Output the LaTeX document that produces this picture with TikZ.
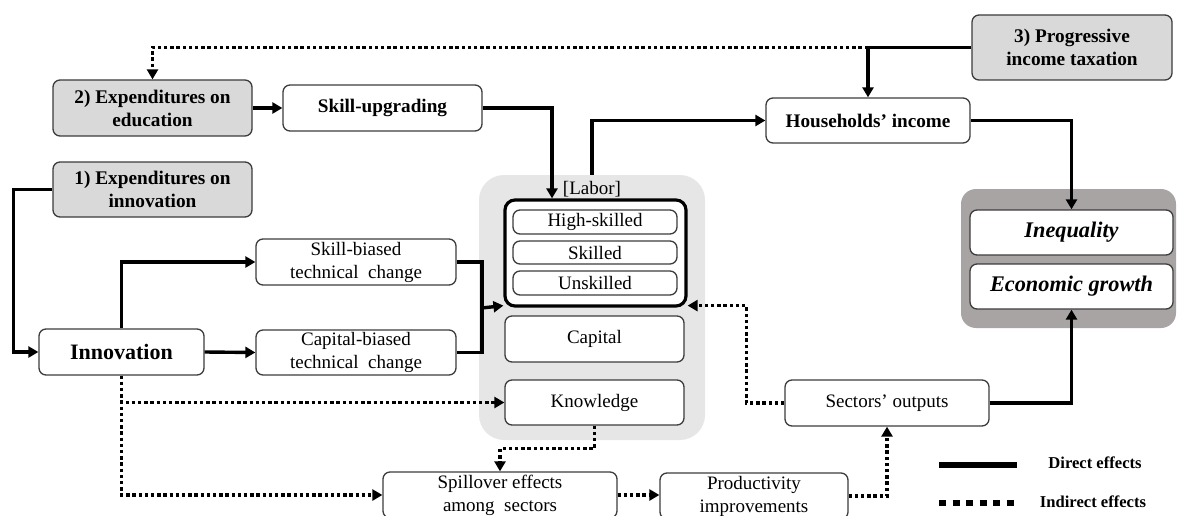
\documentclass[tikz,border=0pt]{standalone}
\usepackage{fontspec}
\setmainfont{Liberation Serif}
\usetikzlibrary{arrows.meta}
\definecolor{polgray}{RGB}{217,217,217}
\definecolor{labgray}{RGB}{230,230,230}
\definecolor{outgray}{RGB}{168,164,164}
\definecolor{bord}{RGB}{60,60,60}
\tikzset{
 box/.style={draw=bord, line width=1.3pt, rounded corners=7pt, fill=white, align=center, inner sep=0pt, font=\fontsize{19}{23}\selectfont},
 pol/.style={box, fill=polgray, font=\bfseries\fontsize{19.3}{23}\selectfont},
 bbox/.style={box, font=\bfseries\fontsize{19.2}{23}\selectfont},
 ibox/.style={box, font=\bfseries\itshape\fontsize{22.3}{26}\selectfont},
 sz/.style 2 args={minimum width=#1pt, minimum height=#2pt},
 direct/.style={line width=3.4pt, -{Triangle[length=10pt,width=11pt]}},
 plain/.style={line width=3.4pt},
 indirect/.style={line width=3.4pt, dash pattern=on 3.4pt off 2.8pt, -{Triangle[length=10pt,width=11pt]}},
 legtext/.style={font=\bfseries\fontsize{16.6}{18}\selectfont, inner sep=0pt},
}
\begin{document}
\begin{tikzpicture}[x=1pt,y=-1pt]
\useasboundingbox (0,0) rectangle (1177,516);
% group backgrounds
\node[fill=labgray, rounded corners=25pt, sz={226}{265}, inner sep=0pt] (labgrp) at (592,307.5) {};
\node[fill=outgray, rounded corners=15pt, sz={215}{139}, inner sep=0pt] (outgrp) at (1068.5,258.5) {};
% policy boxes
\node[pol, sz={199}{56}] (exp2) at (152.5,108) {2) Expenditures on\\education};
\node[pol, sz={199}{55}] (exp1) at (152.5,189.5) {1) Expenditures on\\innovation};
\node[pol, sz={200}{65}] (prog) at (1072,47.5) {3) Progressive\\income taxation};
% bold boxes
\node[bbox, sz={199}{46}] (skillup) at (382.5,108) {Skill-upgrading};
\node[bbox, sz={204}{45}] (house) at (868,120.5) {Households’ income};
\node[box, sz={165}{46}, font=\bfseries\fontsize{22}{24}\selectfont] (innov) at (121.5,352) {Innovation};
% regular boxes
\node[box, sz={200}{46}] (sbtc) at (356,262) {Skill-biased\\technical\ \ change};
\node[box, sz={200}{45}] (cbtc) at (356,352.5) {Capital-biased\\technical\ \ change};
\node[draw=black, fill=white, line width=3.2pt, rounded corners=10pt, sz={181}{106}, inner sep=0pt] (labor) at (595.5,253) {};
\node[font=\fontsize{19}{23}\selectfont, inner sep=0pt] (lablbl) at (592,189) {[Labor]};
\node[box, sz={164}{24}] (high) at (595,222) {High-skilled};
\node[box, sz={164}{23}] (skilled) at (595,252.5) {Skilled};
\node[box, sz={164}{24}] (unsk) at (595,283) {Unskilled};
\node[box, sz={179}{46}] (capital) at (594.5,339) {Capital};
\node[box, sz={179}{45}] (know) at (594.5,402.5) {Knowledge};
\node[box, sz={204}{46}] (sectors) at (887,403) {Sectors’ outputs};
\node[box, sz={234}{46}] (spill) at (500,495) {Spillover effects\\among\ \ sectors};
\node[box, sz={188}{46}] (prod) at (754,496) {Productivity\\improvements};
\node[ibox, sz={203}{45}] (ineq) at (1071.5,232.5) {Inequality};
\node[ibox, sz={203}{45}] (econ) at (1071.5,286.5) {Economic growth};
% helper coordinates
\coordinate (lin) at ([yshift=2pt]labor.south west);
\coordinate (rin) at ([yshift=2pt]labor.south east);
\coordinate (jn) at (482,308);
\coordinate (jt) at (868,47.5);
% direct connectors
\draw[direct] (prog.west) -| (house.north);
\draw[direct] (exp2.east) -- (skillup.west);
\draw[direct] (skillup.east) -| ([xshift=-43.5pt]labor.north);
\draw[direct] (labgrp.north) |- (house.west);
\draw[direct] (house.east) -| (ineq.north);
\draw[direct] (exp1.west) -- ++(-39,0) |- (innov.west);
\draw[direct] (innov.north) |- (sbtc.west);
\draw[direct] (innov.east) -- (cbtc.west);
\draw[plain] (sbtc.east) -| (jn);
\draw[plain] (cbtc.east) -| (jn);
\draw[direct] (jn) -- (lin);
\draw[direct] (sectors.east) -| (econ.south);
% indirect connectors
\draw[indirect] (jt) -| (exp2.north);
\draw[indirect] (sectors.west) -- ++(-38,0) |- (rin);
\draw[indirect] (innov.south) |- (know.west);
\draw[indirect] (innov.south) |- (spill.west);
\draw[indirect] (know.south) -- ++(0,23) -| (spill.north);
\draw[indirect] (spill.east) -- (prod.west |- spill.east);
\draw[indirect] (prod.east) -| (sectors.south);
% legend
\coordinate (ld1) at (939,465);
\coordinate (ld2) at (1017,465);
\coordinate (li1) at (939,503);
\coordinate (li2) at (1017,503);
\draw[line width=6pt] (ld1) -- (ld2);
\draw[line width=6pt, dash pattern=on 7pt off 6.5pt] (li1) -- (li2);
\node[legtext] (ldt) at (1095,463) {Direct effects};
\node[legtext] (lit) at (1093,502) {Indirect effects};
\end{tikzpicture}
\end{document}
